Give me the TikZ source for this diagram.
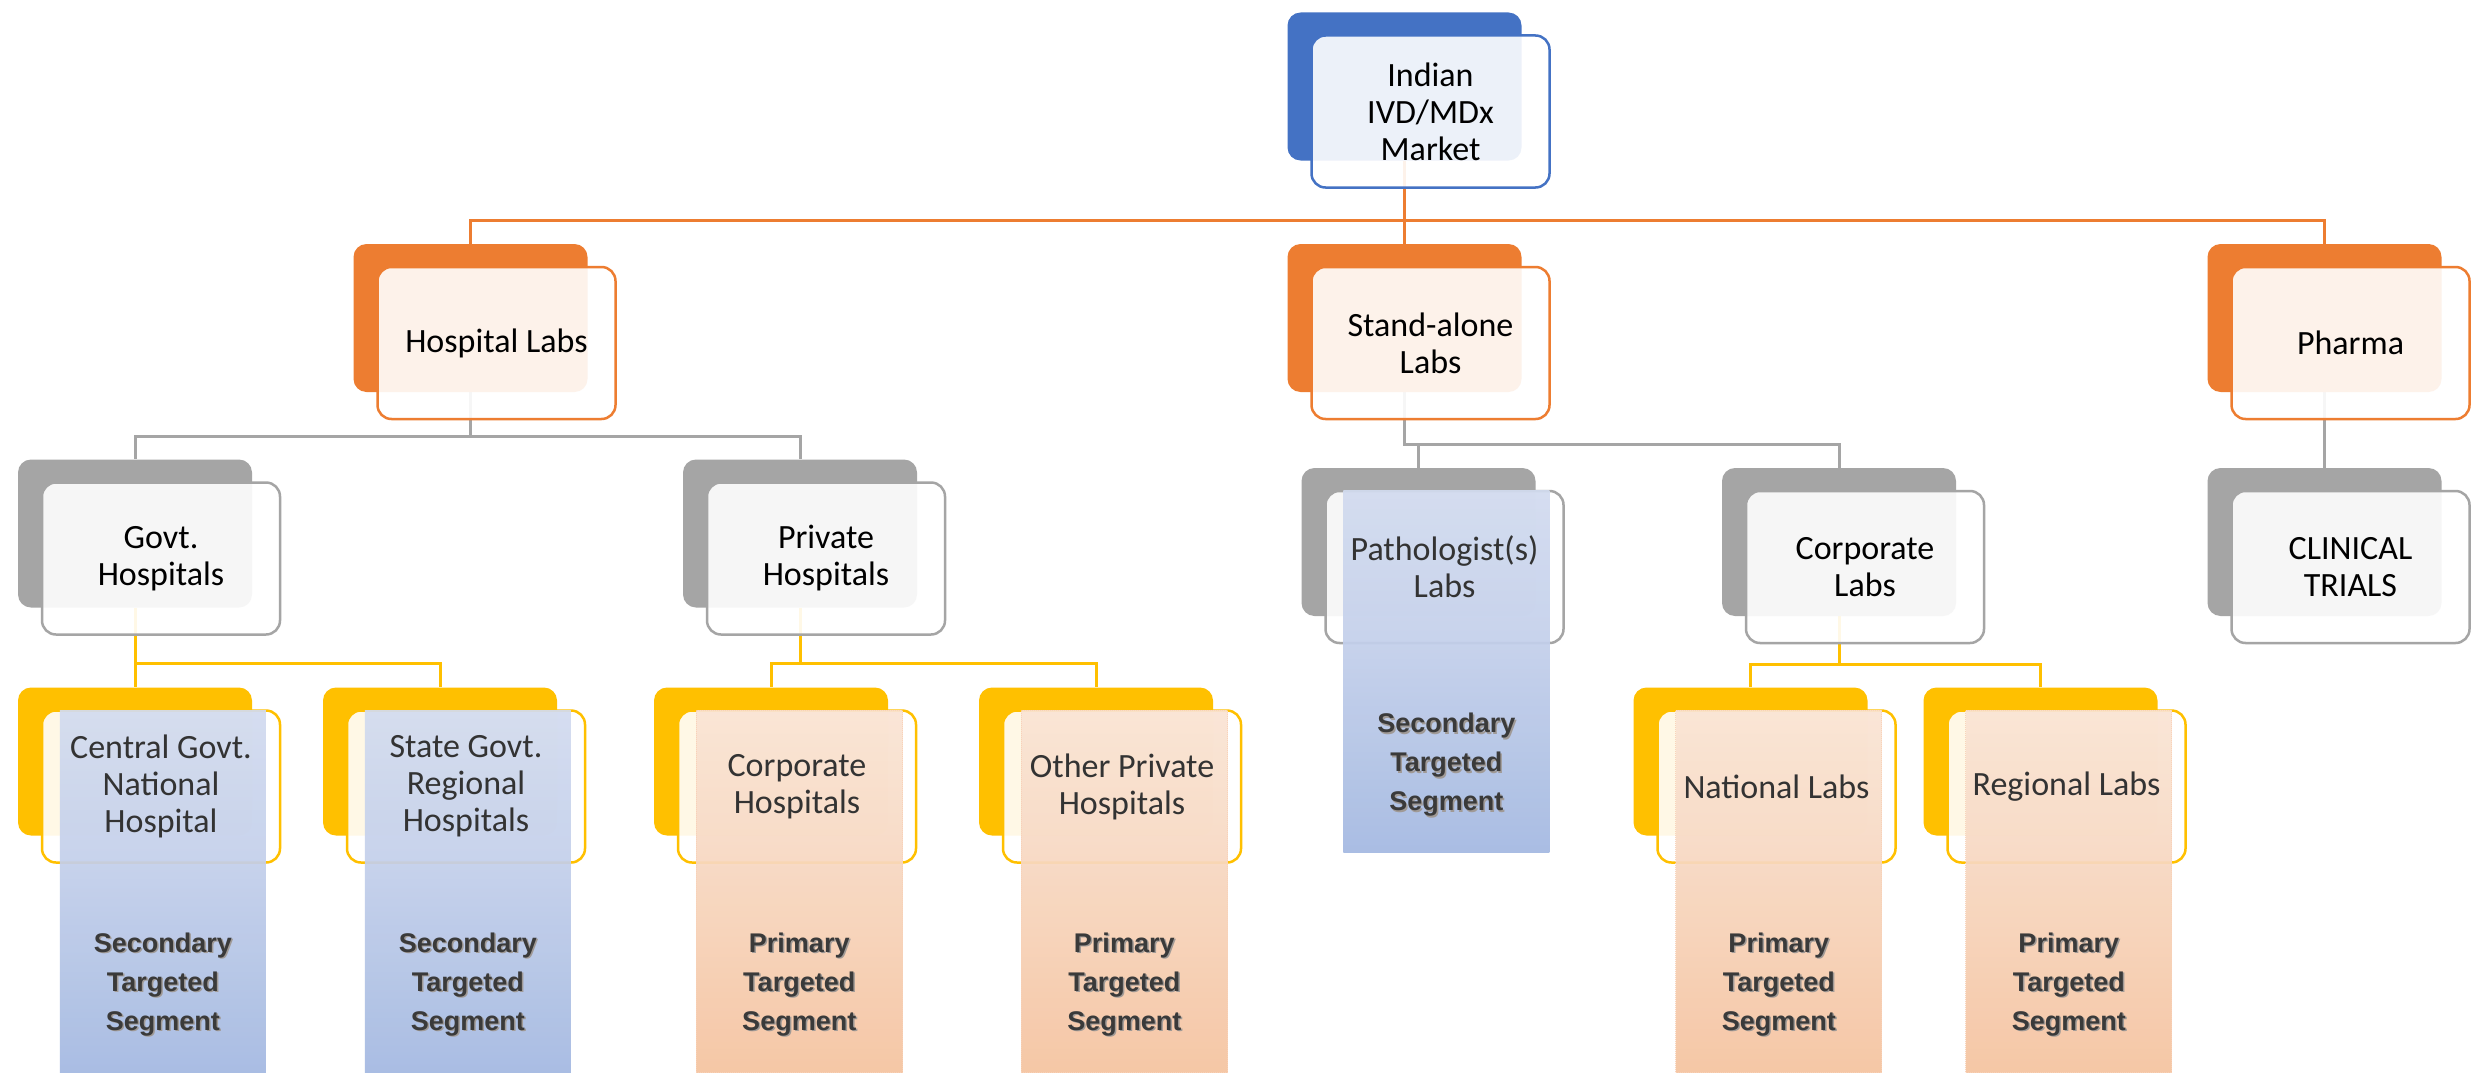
\documentclass[tikz,border=0pt]{standalone}
\usepackage{fontspec}
\setmainfont{Carlito}
\newfontfamily\segfont{Liberation Sans}
\usetikzlibrary{calc,backgrounds}
\pgfdeclarelayer{fg}
\pgfsetlayers{background,main,fg}
\definecolor{cBlue}{HTML}{4472C4}
\definecolor{cOrange}{HTML}{ED7D31}
\definecolor{cGray}{HTML}{A5A5A5}
\definecolor{cYellow}{HTML}{FFC000}
\definecolor{segTxt}{HTML}{3A3A3A}
\definecolor{segShadow}{HTML}{A09A96}
\definecolor{lowTxt}{HTML}{333333}
\definecolor{bsTop}{HTML}{E4E9F4}
\definecolor{bsMid}{HTML}{C4D0EB}
\definecolor{bsBot}{HTML}{88A5D9}
\definecolor{osTop}{HTML}{FDF2E8}
\definecolor{osMid}{HTML}{F8DCC8}
\definecolor{osDark}{HTML}{F5C19C}
\definecolor{osBot}{HTML}{F8D4BB}
\pgfdeclareverticalshading{blueseg}{100bp}{color(0bp)=(bsBot); color(55bp)=(bsMid); color(100bp)=(bsTop)}
\pgfdeclareverticalshading{orangeseg}{100bp}{color(0bp)=(osBot); color(22bp)=(osDark); color(60bp)=(osMid); color(100bp)=(osTop)}
\tikzset{
  backbox/.style={rounded corners=13pt, minimum width=234pt, minimum height=148pt, inner sep=0pt, fill=#1},
  frontbox/.style={rounded corners=14pt, minimum width=238pt, minimum height=152pt, inner sep=0pt,
     draw=#1, line width=2.5pt, fill=white, fill opacity=0.9},
  boxtext/.style={align=center, inner sep=0pt, font=\fontsize{34}{37}\selectfont},
  conn/.style={draw=#1, line width=3pt},
  segbox/.style={minimum width=206pt, minimum height=362pt, inner sep=0pt, anchor=north west, opacity=0.93},
  segtext/.style={font=\segfont\bfseries\fontsize{27}{39}\selectfont, align=center, text=segTxt}
}
\newcommand\boxpair[6][]{%
  \node[backbox=#3] (#2B) at (#4,#5) {};
  \node[frontbox=#3] (#2F) at ($(#2B)+(26,25)$) {};
  \begin{pgfonlayer}{fg}
  \node[boxtext,#1] (#2T) at (#2F.center) {#6};
  \end{pgfonlayer}}
\newcommand\segpair[4]{%
  \node[segbox, shade, shading=#2, #3] (#1S) at ($(#1F.north west)+(19,1)$) {};
  \begin{pgfonlayer}{fg}
  \node[segtext, text=segShadow] (#1Sh) at ($(#1S.north)+(1.5,275.5)$) {#4};
  \node[segtext] (#1St) at ($(#1S.north)+(0,274)$) {#4};
  \end{pgfonlayer}}
\begin{document}
\begin{tikzpicture}[x=1pt,y=-1pt]
\useasboundingbox (0,0) rectangle (2483,1081);
\boxpair{root}{cBlue}{1404.5}{86.5}{Indian\\IVD/MDx\\Market}
\boxpair{hosp}{cOrange}{470.5}{318}{Hospital Labs}
\boxpair{stand}{cOrange}{1404.5}{318}{Stand-alone\\Labs}
\boxpair{pharma}{cOrange}{2324.5}{318}{Pharma}
\boxpair{govt}{cGray}{135}{533.5}{Govt.\\Hospitals}
\boxpair{priv}{cGray}{800}{533.5}{Private\\Hospitals}
\boxpair[text=lowTxt]{path}{cGray}{1418.5}{542}{Pathologist(s)\\Labs}
\boxpair{corp}{cGray}{1839}{542}{Corporate\\Labs}
\boxpair{clin}{cGray}{2324.5}{542}{CLINICAL\\TRIALS}
\boxpair[text=lowTxt]{central}{cYellow}{135}{761.5}{Central Govt.\\National\\Hospital}
\boxpair[text=lowTxt]{state}{cYellow}{440}{761.5}{State Govt.\\Regional\\Hospitals}
\boxpair[text=lowTxt]{corph}{cYellow}{771}{761.5}{Corporate\\Hospitals}
\boxpair[text=lowTxt]{other}{cYellow}{1096}{761.5}{Other Private\\Hospitals}
\boxpair[text=lowTxt]{natl}{cYellow}{1750.5}{761.5}{National Labs}
\boxpair[text=lowTxt]{regl}{cYellow}{2040.5}{761.5}{Regional Labs}
\segpair{central}{blueseg}{}{Secondary\\Targeted\\Segment}
\segpair{state}{blueseg}{}{Secondary\\Targeted\\Segment}
\segpair{path}{blueseg}{}{Secondary\\Targeted\\Segment}
\segpair{corph}{orangeseg}{draw=cOrange!35, densely dotted, line width=1pt}{Primary\\Targeted\\Segment}
\segpair{other}{orangeseg}{draw=cOrange!35, densely dotted, line width=1pt}{Primary\\Targeted\\Segment}
\segpair{natl}{orangeseg}{draw=cOrange!35, densely dotted, line width=1pt}{Primary\\Targeted\\Segment}
\segpair{regl}{orangeseg}{draw=cOrange!35, densely dotted, line width=1pt}{Primary\\Targeted\\Segment}
\begin{pgfonlayer}{background}
\fill[white] (0,0) rectangle (2483,1081);
\draw[conn=cOrange] (rootB.south) -- ++(0,60) -| (hospB.north);
\draw[conn=cOrange] (rootB.south) -- ++(0,60) -| (pharmaB.north);
\draw[conn=cOrange] (rootB.south) -- (standB.north);
\draw[conn=cGray] (hospB.south) -- ++(0,44) -| (govtB.north);
\draw[conn=cGray] (hospB.south) -- ++(0,44) -| (privB.north);
\draw[conn=cGray] (standB.south) -- ++(0,52) -| (pathB.north);
\draw[conn=cGray] (standB.south) -- ++(0,52) -| (corpB.north);
\draw[conn=cGray] (pharmaB.south) -- (clinB.north);
\draw[conn=cYellow] (govtB.south) -- ++(0,56) -| (centralB.north);
\draw[conn=cYellow] (govtB.south) -- ++(0,56) -| (stateB.north);
\draw[conn=cYellow] (privB.south) -- ++(0,56) -| (corphB.north);
\draw[conn=cYellow] (privB.south) -- ++(0,56) -| (otherB.north);
\draw[conn=cYellow] (corpB.south) -- ++(0,48) -| (natlB.north);
\draw[conn=cYellow] (corpB.south) -- ++(0,48) -| (reglB.north);
\end{pgfonlayer}
\end{tikzpicture}
\end{document}
